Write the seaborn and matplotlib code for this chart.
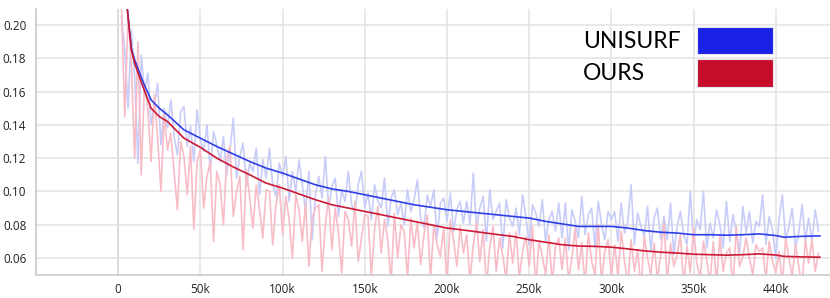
import numpy as np
import pandas as pd
import matplotlib
matplotlib.use("Agg")
import matplotlib.pyplot as plt
import seaborn as sns
from matplotlib.patches import Rectangle

# ---------------- data ----------------
RAW_INTERVAL = 2000  # logging interval (steps) of the raw curves

unisurf_raw = [
    0.205, 0.185, 0.150, 0.196, 0.170, 0.117, 0.182, 0.160, 0.171, 0.140, 0.152, 0.165, 0.128, 0.150, 0.138,
    0.155, 0.133, 0.122, 0.148, 0.151, 0.127, 0.139, 0.118, 0.149, 0.131, 0.124, 0.140, 0.112, 0.136, 0.128,
    0.118, 0.133, 0.110, 0.125, 0.144, 0.108, 0.121, 0.129, 0.103, 0.117, 0.112, 0.126, 0.098, 0.119, 0.108,
    0.126, 0.104, 0.097, 0.117, 0.109, 0.121, 0.094, 0.112, 0.100, 0.119, 0.104, 0.088, 0.112, 0.071, 0.098,
    0.109, 0.096, 0.121, 0.090, 0.103, 0.108, 0.085, 0.101, 0.094, 0.112, 0.092, 0.087, 0.104, 0.112, 0.090,
    0.099, 0.083, 0.104, 0.094, 0.090, 0.108, 0.079, 0.096, 0.101, 0.086, 0.093, 0.080, 0.101, 0.088, 0.095,
    0.107, 0.084, 0.078, 0.098, 0.091, 0.101, 0.072, 0.093, 0.096, 0.082, 0.099, 0.076, 0.089, 0.094, 0.081,
    0.094, 0.080, 0.111, 0.078, 0.090, 0.097, 0.070, 0.101, 0.083, 0.088, 0.093, 0.066, 0.095, 0.084, 0.079,
    0.090, 0.074, 0.098, 0.085, 0.068, 0.092, 0.087, 0.079, 0.095, 0.070, 0.083, 0.088, 0.076, 0.093, 0.072,
    0.093, 0.065, 0.089, 0.082, 0.072, 0.097, 0.074, 0.086, 0.090, 0.066, 0.094, 0.080, 0.071, 0.088, 0.083,
    0.088, 0.070, 0.093, 0.075, 0.082, 0.104, 0.068, 0.087, 0.079, 0.073, 0.091, 0.064, 0.084, 0.090, 0.071,
    0.085, 0.071, 0.093, 0.062, 0.079, 0.088, 0.074, 0.068, 0.100, 0.069, 0.083, 0.077, 0.100, 0.066, 0.081,
    0.072, 0.089, 0.080, 0.066, 0.094, 0.070, 0.086, 0.076, 0.063, 0.091, 0.075, 0.088, 0.069, 0.082, 0.079,
    0.098, 0.068, 0.085, 0.077, 0.060, 0.083, 0.098, 0.071, 0.079, 0.090, 0.066, 0.075, 0.092, 0.070, 0.084,
    0.070, 0.089, 0.076,
]

ours_raw = [
    0.210, 0.145, 0.205, 0.178, 0.120, 0.190, 0.110, 0.165, 0.150, 0.118, 0.158, 0.132, 0.100, 0.146, 0.125,
    0.135, 0.112, 0.089, 0.130, 0.121, 0.098, 0.127, 0.077, 0.118, 0.125, 0.090, 0.109, 0.118, 0.070, 0.112,
    0.104, 0.080, 0.120, 0.127, 0.085, 0.100, 0.109, 0.065, 0.113, 0.096, 0.078, 0.104, 0.089, 0.072, 0.101,
    0.100, 0.068, 0.092, 0.104, 0.074, 0.097, 0.083, 0.060, 0.098, 0.089, 0.070, 0.093, 0.055, 0.084, 0.090,
    0.092, 0.052, 0.080, 0.096, 0.065, 0.090, 0.075, 0.051, 0.088, 0.083, 0.067, 0.094, 0.058, 0.072, 0.086,
    0.085, 0.049, 0.078, 0.091, 0.063, 0.083, 0.071, 0.045, 0.087, 0.060, 0.080, 0.076, 0.048, 0.084, 0.066,
    0.082, 0.056, 0.074, 0.086, 0.047, 0.080, 0.068, 0.061, 0.078, 0.044, 0.083, 0.071, 0.055, 0.079, 0.063,
    0.074, 0.046, 0.068, 0.081, 0.058, 0.077, 0.043, 0.066, 0.079, 0.052, 0.072, 0.061, 0.047, 0.075, 0.057,
    0.076, 0.048, 0.064, 0.073, 0.055, 0.079, 0.042, 0.070, 0.061, 0.050, 0.074, 0.044, 0.067, 0.072, 0.053,
    0.072, 0.047, 0.060, 0.078, 0.053, 0.069, 0.043, 0.075, 0.058, 0.050, 0.080, 0.046, 0.064, 0.071, 0.049,
    0.068, 0.049, 0.076, 0.058, 0.044, 0.071, 0.052, 0.065, 0.041, 0.073, 0.060, 0.050, 0.069, 0.047, 0.062,
    0.081, 0.046, 0.069, 0.055, 0.062, 0.074, 0.043, 0.067, 0.051, 0.078, 0.057, 0.048, 0.070, 0.059, 0.045,
    0.070, 0.045, 0.073, 0.052, 0.063, 0.066, 0.042, 0.079, 0.055, 0.061, 0.072, 0.060, 0.050, 0.068, 0.064,
    0.066, 0.047, 0.070, 0.058, 0.051, 0.064, 0.044, 0.072, 0.060, 0.049, 0.068, 0.055, 0.043, 0.071, 0.057,
    0.071, 0.052, 0.063,
]

smooth_steps = [4000, 8000, 10000, 15000, 20000, 25000, 30000, 40000, 50000, 60000,
                70000, 80000, 90000, 100000, 110000, 120000, 130000, 140000, 150000,
                160000, 170000, 180000, 190000, 200000, 210000, 220000, 230000, 240000,
                250000, 260000, 270000, 280000, 290000, 300000, 310000, 320000, 330000,
                340000, 350000, 360000, 370000, 380000, 390000, 400000, 405000, 415000,
                427000]

unisurf_smooth = [0.225, 0.186, 0.179, 0.166, 0.155, 0.150, 0.146, 0.137, 0.132, 0.127,
                  0.1225, 0.118, 0.114, 0.111, 0.1075, 0.104, 0.1015, 0.100, 0.098,
                  0.096, 0.094, 0.092, 0.0905, 0.089, 0.088, 0.087, 0.086, 0.085,
                  0.084, 0.082, 0.0805, 0.079, 0.079, 0.079, 0.078, 0.0765, 0.0755,
                  0.075, 0.074, 0.074, 0.0737, 0.074, 0.0745, 0.0735, 0.0725, 0.073,
                  0.0733]

ours_smooth = [0.225, 0.185, 0.177, 0.163, 0.150, 0.145, 0.142, 0.132, 0.1265, 0.120,
               0.1147, 0.110, 0.105, 0.102, 0.0985, 0.095, 0.092, 0.090, 0.088,
               0.086, 0.084, 0.082, 0.080, 0.078, 0.0768, 0.0755, 0.0742, 0.073,
               0.071, 0.0695, 0.068, 0.0672, 0.067, 0.0665, 0.0655, 0.0643, 0.0635,
               0.063, 0.0623, 0.062, 0.0617, 0.062, 0.0625, 0.0618, 0.061, 0.0607,
               0.0605]

x_ticks = [0, 50000, 100000, 150000, 200000, 250000, 300000, 350000, 400000]
x_tick_labels = ["0", "50k", "100k", "150k", "200k", "250k", "300k", "350k", "440k"]
y_ticks = [0.06, 0.08, 0.10, 0.12, 0.14, 0.16, 0.18, 0.20]
y_tick_labels = ["0.06", "0.08", "0.10", "0.12", "0.14", "0.16", "0.18", "0.20"]
legend_names = ["UNISURF", "OURS"]
legend_colors = ["#1a22e6", "#c80c2c"]

# ---------------- plot ----------------
sns.set_theme(style="whitegrid")
plt.rcParams['font.family'] = ['Open Sans', 'DejaVu Sans']

W, H = 830, 298
fig = plt.figure(figsize=(W / 100, H / 100), dpi=100)
ax = fig.add_axes([36 / W, 1 - 275 / H, 1 - 36 / W, (275 - 9) / H])

uni_df = pd.DataFrame({"step": RAW_INTERVAL * (1 + np.arange(len(unisurf_raw))),
                       "loss": unisurf_raw})
ours_df = pd.DataFrame({"step": RAW_INTERVAL * (1 + np.arange(len(ours_raw))),
                        "loss": ours_raw})
sm_df = pd.DataFrame({"step": smooth_steps, "unisurf": unisurf_smooth, "ours": ours_smooth})

sns.lineplot(data=uni_df, x="step", y="loss", color="#c8ccf8", lw=1.2, ax=ax)
sns.lineplot(data=ours_df, x="step", y="loss", color="#f8bcc7", lw=1.2, ax=ax)
sns.lineplot(data=sm_df, x="step", y="unisurf", color="#2f3fe6", lw=1.2, ax=ax)
sns.lineplot(data=sm_df, x="step", y="ours", color="#cc1a36", lw=1.2, ax=ax)

ax.set_xlim(-50000, 433000)
ax.set_ylim(0.0498, 0.2096)
ax.set_xticks(x_ticks)
ax.set_xticklabels(x_tick_labels)
ax.set_yticks(y_ticks)
ax.set_yticklabels(y_tick_labels)
ax.set_xlabel("")
ax.set_ylabel("")

ax.grid(True, color="#e3e3e3", lw=1.1)
ax.axvline(0, color="#bdbdbd", lw=1.1, zorder=0.5)
for s in ["top", "right"]:
    ax.spines[s].set_visible(False)
ax.spines["left"].set_color("#c4c4c4")
ax.spines["bottom"].set_color("#c8c8c8")
ax.spines["left"].set_linewidth(1.1)
ax.spines["bottom"].set_linewidth(1.1)
ax.tick_params(axis="both", length=0, labelsize=8.5, colors="#222222")
ax.tick_params(axis="x", pad=6)
ax.tick_params(axis="y", pad=7)

# legend (text + colour boxes, drawn over the grid, no background)
text_y = [42, 73]
box_top = [27, 59]
box_h = [27, 28]
for name, col, ty, bt, bh in zip(legend_names, legend_colors, text_y, box_top, box_h):
    fig.text(583 / W, 1 - ty / H, name, family=["Lato", "DejaVu Sans"], fontsize=16.5,
             va="center", ha="left", color="#000000")
    fig.add_artist(Rectangle((697 / W, 1 - (bt + bh) / H), 76 / W, bh / H,
                             transform=fig.transFigure, facecolor=col,
                             edgecolor="#e6e6f2", lw=0.8))

fig.savefig("out.png", dpi=100)
